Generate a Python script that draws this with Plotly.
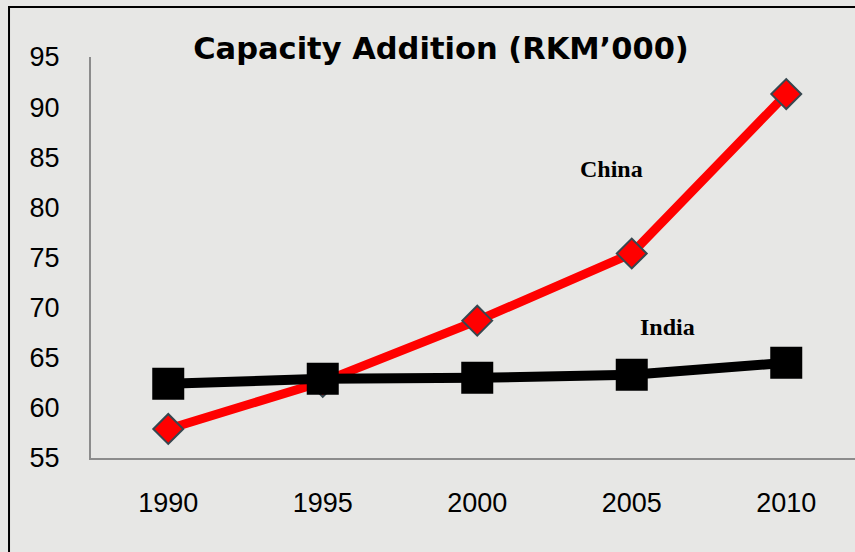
import plotly.graph_objects as go

years = [1990, 1995, 2000, 2005, 2010]
china = [57.9, 62.6, 68.7, 75.4, 91.3]
india = [62.4, 62.9, 63.0, 63.3, 64.5]
y_ticks = [55, 60, 65, 70, 75, 80, 85, 90, 95]
title_text = "Capacity Addition (RKM\u2019000)"

fig = go.Figure()
fig.add_trace(go.Scatter(
    x=years, y=china, mode="lines+markers", name="China",
    line=dict(color="#ff0000", width=9),
    marker=dict(symbol="diamond", size=23, color="#ff0000",
                line=dict(color="#37474f", width=2)),
))
fig.add_trace(go.Scatter(
    x=years, y=india, mode="lines+markers", name="India",
    line=dict(color="#000000", width=10),
    marker=dict(symbol="square", size=32, color="#000000",
                line=dict(color="#000000", width=0)),
))

fig.add_annotation(x=2004.35, y=83.8, text="<b>China</b>", showarrow=False,
                   font=dict(family="Liberation Serif", size=24, color="#000"))
fig.add_annotation(x=2006.15, y=68.1, text="<b>India</b>", showarrow=False,
                   font=dict(family="Liberation Serif", size=24, color="#000"))

# outer black frame
fig.add_shape(type="rect", xref="paper", yref="paper",
              x0=-0.1073, x1=1.05, y0=-0.3, y1=1.1247,
              line=dict(color="#000000", width=2), fillcolor="rgba(0,0,0,0)",
              layer="below")

tick_font = dict(family="Liberation Sans", size=27, color="#000")

fig.update_layout(
    width=855, height=552,
    margin=dict(l=91, r=0, t=57, b=94),
    paper_bgcolor="#e7e7e5", plot_bgcolor="#e7e7e5",
    showlegend=False,
    title=dict(text="<b>" + title_text + "</b>", x=441 / 855, xanchor="center",
               y=1 - 48 / 552, yanchor="middle", yref="container",
               font=dict(family="DejaVu Sans", size=30.5, color="#000")),
    font=dict(family="Liberation Sans", color="#000"),
)
fig.update_xaxes(
    range=[1987.5, 2012.225], tickvals=years, ticktext=[str(y) for y in years],
    showgrid=False, zeroline=False, showline=True, linecolor="#8c8c8c", linewidth=2,
    ticks="", ticklabelstandoff=20, tickfont=tick_font,
)
fig.update_yaxes(
    range=[55, 95], tickvals=y_ticks,
    showgrid=False, zeroline=False, showline=True, linecolor="#8c8c8c", linewidth=2,
    ticks="", ticklabelstandoff=24, tickfont=tick_font,
)

fig.write_html("out.html")
